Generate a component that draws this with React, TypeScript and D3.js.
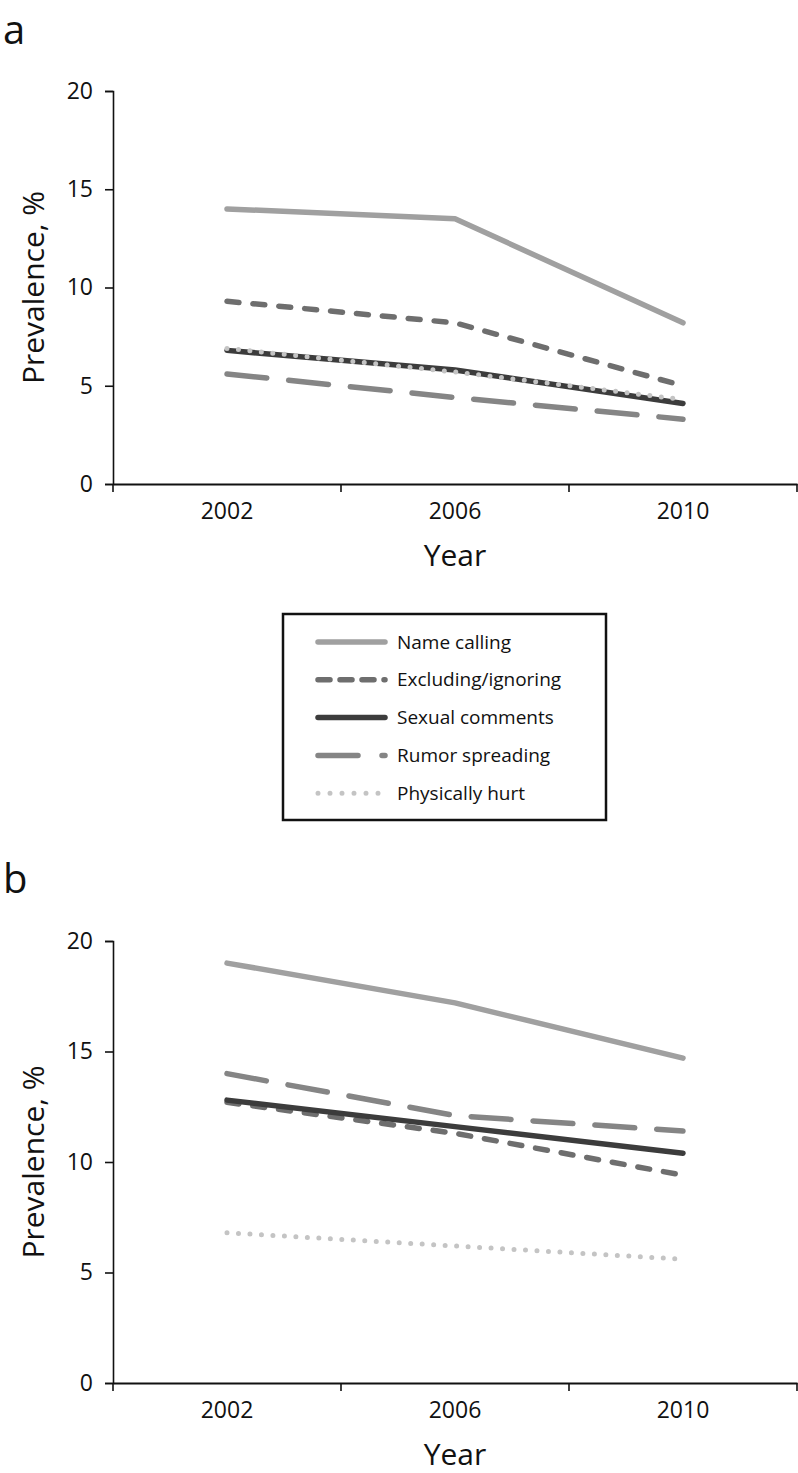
import React, { useEffect, useRef } from 'react'
import * as d3 from 'd3'

const years = ['2002', '2006', '2010']
const yTicks = [0, 5, 10, 15, 20]
const seriesNames = ['Name calling', 'Excluding/ignoring', 'Sexual comments', 'Rumor spreading', 'Physically hurt']

// panel a
const aNameCalling = [14.0, 13.5, 8.2]
const aExcluding = [9.3, 8.2, 5.0]
const aSexual = [6.8, 5.8, 4.1]
const aRumor = [5.6, 4.4, 3.3]
const aPhysical = [6.9, 5.7, 4.3]

// panel b
const bNameCalling = [19.0, 17.2, 14.7]
const bExcluding = [12.7, 11.3, 9.4]
const bSexual = [12.8, 11.6, 10.4]
const bRumor = [14.0, 12.1, 11.4]
const bPhysical = [6.8, 6.2, 5.6]

const styles = [
  { color: '#a0a0a0', dash: null, width: 5.5 },
  { color: '#6e6e6e', dash: '12,14', width: 5.5 },
  { color: '#3c3c3c', dash: null, width: 5.5 },
  { color: '#858585', dash: '40,22', width: 5.5 },
  { color: '#c4c4c4', dash: '0,11.5', width: 5 },
]

const FONT = "'Open Sans', sans-serif"

const App = () => {
  const svgRef = useRef<SVGSVGElement>(null)

  useEffect(() => {
    const svg = d3.select(svgRef.current)
    svg.selectAll('*').remove()

    const width = 798
    const height = 1473
    svg.append('rect').attr('width', width).attr('height', height).attr('fill', '#fff')

    const panels = [
      { label: 'a', labelY: 44, top: 91, bottom: 484, data: [aNameCalling, aExcluding, aSexual, aRumor, aPhysical] },
      { label: 'b', labelY: 893, top: 941, bottom: 1383, data: [bNameCalling, bExcluding, bSexual, bRumor, bPhysical] },
    ]

    const x = d3.scaleBand().domain(years).range([113, 797]).padding(0)

    panels.forEach(p => {
      const y = d3.scaleLinear().domain([0, 20]).range([p.bottom, p.top])
      const g = svg.append('g')

      g.append('text')
        .attr('x', 3)
        .attr('y', p.labelY)
        .style('font-family', FONT)
        .style('font-size', '40px')
        .style('fill', '#111')
        .text(p.label)

      // y axis
      const yAxis = g.append('g')
        .attr('transform', 'translate(113,0)')
        .call(d3.axisLeft(y).tickValues(yTicks).tickSize(8).tickPadding(12).tickFormat(d3.format('d')))
      yAxis.select('.domain').attr('stroke', '#111').attr('stroke-width', 1.6)
      yAxis.selectAll('.tick line').attr('stroke', '#111').attr('stroke-width', 1.6)
      yAxis.selectAll('.tick text')
        .style('font-family', FONT)
        .style('font-size', '23px')
        .style('fill', '#111')

      // x axis
      const xAxis = g.append('g')
        .attr('transform', `translate(0,${p.bottom})`)
        .call(d3.axisBottom(x).tickSize(0).tickPadding(19))
      xAxis.select('.domain').attr('stroke', '#111').attr('stroke-width', 2)
      xAxis.selectAll('.tick text')
        .style('font-family', FONT)
        .style('font-size', '23px')
        .style('fill', '#111')

      // boundary ticks between categories
      const bounds = [113, ...years.map(yr => (x(yr) as number) + x.bandwidth())]
      g.selectAll('.xb')
        .data(bounds)
        .enter().append('line')
        .attr('x1', d => d).attr('x2', d => d)
        .attr('y1', p.bottom).attr('y2', p.bottom + 8)
        .attr('stroke', '#111').attr('stroke-width', 1.6)

      g.append('text')
        .attr('x', 455)
        .attr('y', p.bottom + 82)
        .attr('text-anchor', 'middle')
        .style('font-family', FONT)
        .style('font-size', '30px')
        .style('fill', '#111')
        .text('Year')

      g.append('text')
        .attr('transform', `translate(44,${(p.top + p.bottom) / 2}) rotate(-90)`)
        .attr('text-anchor', 'middle')
        .style('font-family', FONT)
        .style('font-size', '30px')
        .style('fill', '#111')
        .text('Prevalence, %')

      const line = d3.line<number>()
        .x((_, i) => (x(years[i]) as number) + x.bandwidth() / 2)
        .y(d => y(d))

      p.data.forEach((vals, i) => {
        const s = styles[i]
        g.append('path')
          .datum(vals)
          .attr('d', line)
          .attr('fill', 'none')
          .attr('stroke', s.color)
          .attr('stroke-width', s.width)
          .attr('stroke-linecap', 'round')
          .attr('stroke-linejoin', 'round')
          .attr('stroke-dasharray', s.dash)
      })
    })

    // legend
    const legend = svg.append('g')
    legend.append('rect')
      .attr('x', 283)
      .attr('y', 614)
      .attr('width', 323)
      .attr('height', 206)
      .attr('fill', '#fff')
      .attr('stroke', '#111')
      .attr('stroke-width', 2.5)

    const legendDash = [null, '12,10', null, '40,24', '0,12']
    seriesNames.forEach((name, i) => {
      const ly = 642 + i * 37.8
      const s = styles[i]
      legend.append('line')
        .attr('x1', 318).attr('x2', 385)
        .attr('y1', ly).attr('y2', ly)
        .attr('stroke', s.color)
        .attr('stroke-width', s.width)
        .attr('stroke-linecap', 'round')
        .attr('stroke-dasharray', legendDash[i])
      legend.append('text')
        .attr('x', 397)
        .attr('y', ly)
        .attr('dy', '0.35em')
        .style('font-family', FONT)
        .style('font-size', '19px')
        .style('fill', '#111')
        .text(name)
    })
  }, [])

  return (
    <svg
      ref={svgRef}
      width={798}
      height={1473}
      style={{ position: 'absolute', left: 0, top: 0, display: 'block' }}
    />
  )
}

export default App
